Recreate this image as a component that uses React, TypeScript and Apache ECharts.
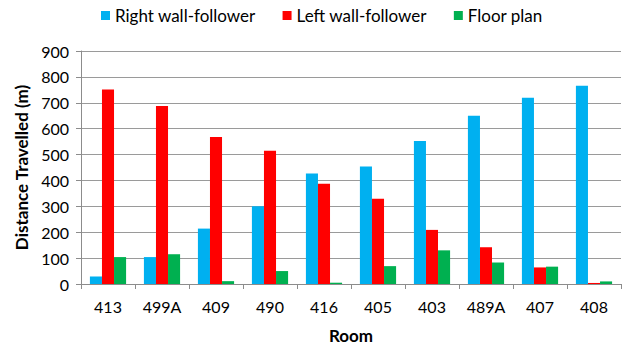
import React, { useEffect, useRef } from "react";
import * as echarts from "echarts";

const rooms = ["413", "499A", "409", "490", "416", "405", "403", "489A", "407", "408"];
const rightWall = [29, 104, 214, 300, 427, 454, 552, 650, 719, 766];
const leftWall = [751, 688, 568, 515, 387, 329, 209, 142, 64, 4];
const floorPlan = [104, 115, 11, 50, 5, 69, 130, 83, 67, 10];
const seriesNames = ["Right wall-follower", "Left wall-follower", "Floor plan"];
const colors = ["#00B0F0", "#FF0000", "#00B050"];

const FONT = "Lato";

export default function App() {
  const ref = useRef<HTMLDivElement>(null);
  useEffect(() => {
    if (!ref.current) return;
    const chart = echarts.init(ref.current, undefined, { renderer: "svg" });
    const data = [rightWall, leftWall, floorPlan];
    chart.setOption({
      animation: false,
      textStyle: { fontFamily: FONT },
      legend: {
        top: 2,
        left: 96,
        itemWidth: 9,
        itemHeight: 9,
        itemGap: 27,
        icon: "rect",
        textStyle: { fontFamily: FONT, fontSize: 17, color: "#000", padding: [0, 0, 0, 0] },
        data: seriesNames,
      },
      grid: { left: 81, right: 5, top: 51, bottom: 61, containLabel: false },
      xAxis: {
        type: "category",
        data: rooms,
        name: "Room",
        nameLocation: "middle",
        nameGap: 43,
        nameTextStyle: { fontFamily: FONT, fontSize: 17, fontWeight: "bold", color: "#000" },
        axisLine: { lineStyle: { color: "#8c8c8c" } },
        axisTick: { show: true, length: 5, lineStyle: { color: "#8c8c8c" } },
        axisLabel: { fontFamily: FONT, fontSize: 16, color: "#000", margin: 14 },
      },
      yAxis: {
        type: "value",
        min: 0,
        max: 900,
        interval: 100,
        name: "Distance Travelled (m)",
        nameLocation: "middle",
        nameGap: 51,
        nameTextStyle: { fontFamily: FONT, fontSize: 17, fontWeight: "bold", color: "#000" },
        axisLine: { show: true, lineStyle: { color: "#8c8c8c" } },
        axisTick: { show: true, length: 5, lineStyle: { color: "#8c8c8c" } },
        axisLabel: { fontFamily: FONT, fontSize: 16, color: "#000", margin: 12 },
        splitLine: { lineStyle: { color: "#9a9a9a", width: 1 } },
      },
      series: seriesNames.map((n, i) => ({
        name: n,
        type: "bar",
        data: data[i],
        itemStyle: { color: colors[i] },
        barGap: "0%",
        barCategoryGap: "33%",
      })),
    });
    return () => chart.dispose();
  }, []);
  return <div ref={ref} style={{ width: 626, height: 349, position: "absolute", left: 0, top: 0 }} />;
}
